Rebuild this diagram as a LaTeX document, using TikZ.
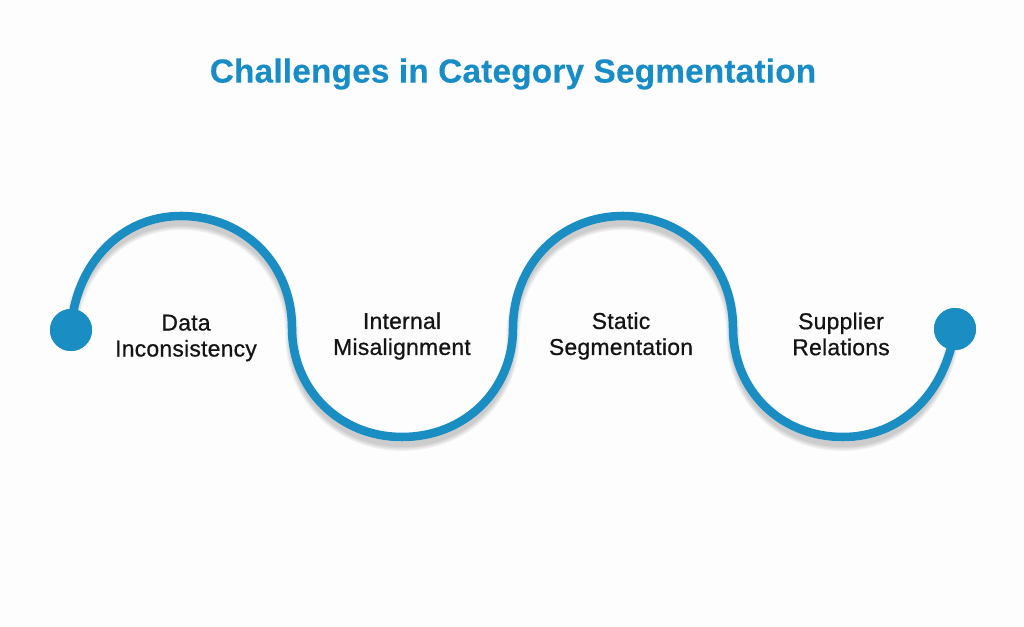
\documentclass[tikz,border=0pt]{standalone}
\usepackage{fontspec}
\newfontfamily\titlefont{Liberation Sans}[UprightFont={* Bold},FakeBold=0.2,LetterSpace=0.6]
\setmainfont{Liberation Sans}[FakeBold=0.7,LetterSpace=1]
\definecolor{wave}{HTML}{1A8DC3}
\definecolor{titleblue}{HTML}{178CC6}
\definecolor{bgc}{HTML}{FDFDFE}
\tikzset{
 lbl/.style={align=center,font=\fontsize{17.2pt}{19.5pt}\selectfont,text=black!92},
 dotn/.style={circle,fill=wave,minimum size=31.5pt,inner sep=0pt},
 wavy/.style={draw=wave,line width=6.4pt},
 shadowline/.style={draw=black,line width=#1,opacity=.05}
}
\begin{document}
\begin{tikzpicture}[x=0.75pt,y=-0.75pt]
\useasboundingbox (0,0) rectangle (1024,627);
\fill[bgc] (0,0) rectangle (1024,627);
\node[font=\titlefont\fontsize{25pt}{30pt}\selectfont,text=titleblue] (title) at (513,74) {Challenges in Category Segmentation};
\node[dotn] (a) at (71,330) {};
\node[dotn] (b) at (955,329) {};
\def\wavepath{(a.center) .. controls (75,265) and (120,216) .. (181,216) .. controls (245,216) and (292,265) .. (292,328)
 .. controls (292,390) and (340,437) .. (402,437) .. controls (465,437) and (513,390) .. (513,328)
 .. controls (513,265) and (560,216) .. (623,216) .. controls (686,216) and (733,265) .. (733,328)
 .. controls (733,390) and (780,437) .. (843,437) .. controls (900,437) and (945,395) .. (b.center)}
\foreach \w in {4pt,6pt,8pt,10pt}{
 \begin{scope}[yshift=-5.5pt]
 \draw[shadowline=\w] \wavepath;
 \end{scope}
}
\draw[wavy] \wavepath;
\node[dotn] at (a) {};
\node[dotn] at (b) {};
\node[lbl] (t1) at (186,338) {Data\\Inconsistency};
\node[lbl] (t2) at (402,336) {Internal\\Misalignment};
\node[lbl] (t3) at (621,336) {Static\\Segmentation};
\node[lbl] (t4) at (841,334) {Supplier\\Relations};
\end{tikzpicture}
\end{document}
